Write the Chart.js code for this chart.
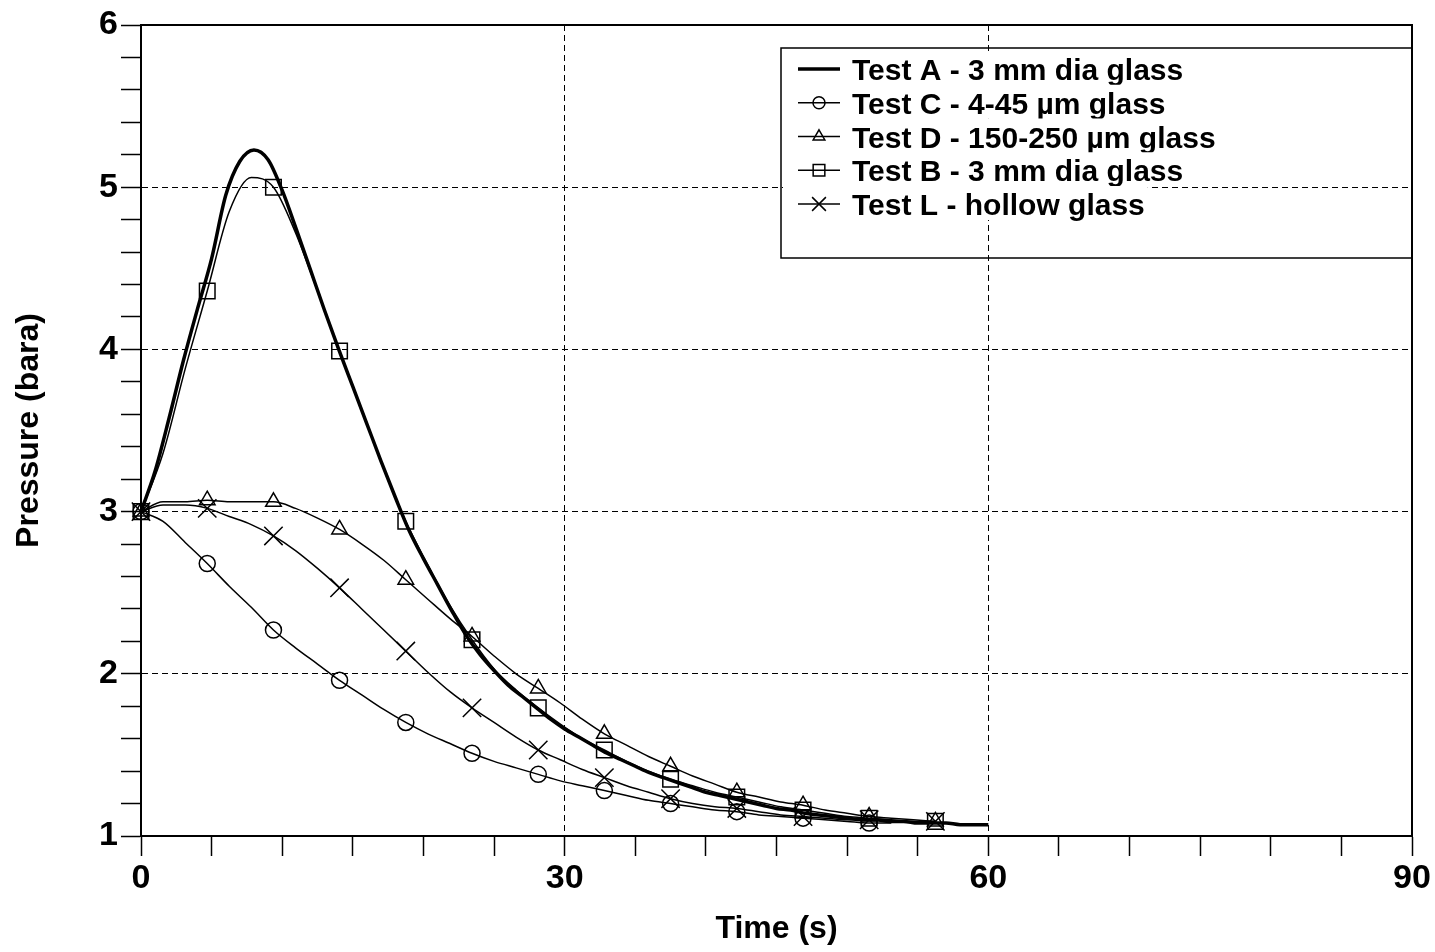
<!DOCTYPE html>
<html>
<head>
<meta charset="utf-8">
<script src="https://cdn.jsdelivr.net/npm/chart.js@4"></script>
<style>
  body { margin: 0; background: #fff; }
  canvas { display: block; }
</style>
</head>
<body>
<canvas id="grafico-pressao" width="1435" height="952"></canvas>
<script>
// tempos (s) das medicoes das series com marcador
const tempo = [0, 1.56, 3.13, 4.69, 6.25, 7.81, 9.38, 10.94, 12.5, 14.06, 15.63, 17.19, 18.75, 20.31,
  21.88, 23.44, 25, 26.56, 28.13, 29.69, 31.25, 32.81, 34.38, 35.94, 37.5, 39.06, 40.63, 42.19,
  43.75, 45.31, 46.88, 48.44, 50, 51.56, 53.13, 54.69, 56.25];

// tempos (s) do teste A (linha grossa, sem marcador)
const tempoA = [0, 1, 2, 3, 4, 5, 6, 7, 8, 9, 10, 11, 12, 13, 14, 15, 16, 17, 18, 19, 20, 21, 22, 23,
  24, 25, 26, 27, 28, 29, 30, 31, 32, 33, 34, 35, 36, 37, 38, 39, 40, 41, 42, 43, 44, 45, 46, 47, 48,
  49, 50, 51, 52, 53, 54, 55, 56, 57, 58, 59, 60];

// pressao (bara)
const testeA = [3.00, 3.25, 3.58, 3.93, 4.25, 4.56, 4.95, 5.16, 5.23, 5.17, 4.98, 4.74, 4.49, 4.24,
  4.00, 3.77, 3.54, 3.31, 3.09, 2.88, 2.71, 2.55, 2.39, 2.24, 2.12, 2.02, 1.93, 1.86, 1.79, 1.72,
  1.66, 1.61, 1.56, 1.51, 1.47, 1.43, 1.39, 1.36, 1.33, 1.30, 1.27, 1.25, 1.23, 1.21, 1.19, 1.17,
  1.16, 1.14, 1.13, 1.12, 1.11, 1.10, 1.10, 1.09, 1.09, 1.08, 1.08, 1.08, 1.07, 1.07, 1.07];
const testeC = [3.00, 2.94, 2.81, 2.68, 2.54, 2.41, 2.27, 2.16, 2.06, 1.96, 1.87, 1.78, 1.70, 1.63,
  1.57, 1.51, 1.46, 1.42, 1.38, 1.34, 1.31, 1.28, 1.25, 1.22, 1.20, 1.18, 1.16, 1.15, 1.13, 1.12,
  1.11, 1.10, 1.09, 1.08, 1.08];
const testeD = [3.00, 3.06, 3.06, 3.07, 3.06, 3.06, 3.06, 3.02, 2.96, 2.89, 2.80, 2.70, 2.58, 2.46,
  2.34, 2.23, 2.11, 2.00, 1.91, 1.82, 1.72, 1.63, 1.56, 1.49, 1.43, 1.37, 1.32, 1.27, 1.24, 1.21,
  1.19, 1.16, 1.14, 1.12, 1.11, 1.10, 1.09];
const testeB = [3.00, 3.36, 3.88, 4.36, 4.85, 5.06, 5.00, 4.72, 4.36, 3.99, 3.63, 3.27, 2.94, 2.67,
  2.42, 2.21, 2.03, 1.90, 1.79, 1.69, 1.60, 1.53, 1.46, 1.40, 1.35, 1.31, 1.27, 1.24, 1.21, 1.18,
  1.16, 1.14, 1.12, 1.11, 1.10, 1.09, 1.09];
const testeL = [3.00, 3.04, 3.04, 3.02, 2.97, 2.92, 2.85, 2.76, 2.65, 2.53, 2.40, 2.27, 2.14, 2.01,
  1.89, 1.79, 1.70, 1.61, 1.53, 1.47, 1.41, 1.36, 1.31, 1.27, 1.23, 1.20, 1.18, 1.17, 1.15, 1.13,
  1.12, 1.11, 1.10, 1.10, 1.09, 1.09, 1.09];

const nomes = ['Test A - 3 mm dia glass', 'Test C - 4-45 µm glass', 'Test D - 150-250 µm glass',
  'Test B - 3 mm dia glass', 'Test L - hollow glass'];

const xTicks = [0, 30, 60, 90];
const yTicks = [1, 2, 3, 4, 5, 6];

const fonte = '"Liberation Sans", Arial, sans-serif';
const marcadorCada = 3; // um marcador a cada 3 medicoes

// junta tempo e pressao em pontos {x, y}
function pontos(t, p) {
  return p.map((v, i) => ({ x: t[i], y: v }));
}

function serie(label, t, p, estilo, raio, largura) {
  return {
    label: label,
    data: pontos(t, p),
    borderColor: '#000',
    borderWidth: largura,
    pointStyle: estilo,
    pointRadius: ctx => (estilo && ctx.dataIndex % marcadorCada === 0) ? raio : 0,
    pointBorderColor: '#000',
    pointBorderWidth: 1.5,
    pointBackgroundColor: 'rgba(0,0,0,0)',
    cubicInterpolationMode: 'monotone',
    clip: false,
    // tamanho do simbolo na legenda
    legendaRaio: raio * 0.75
  };
}

// moldura em volta da area do grafico
const moldura = {
  id: 'moldura',
  beforeDatasetsDraw(chart) {
    const { ctx, chartArea: a } = chart;
    ctx.save();
    ctx.strokeStyle = '#000';
    ctx.lineWidth = 2;
    ctx.strokeRect(a.left, a.top, a.right - a.left, a.bottom - a.top);
    ctx.restore();
  }
};

// legenda desenhada dentro da area do grafico
const legenda = {
  id: 'legenda',
  afterDraw(chart) {
    const { ctx, chartArea: a } = chart;
    const esq = a.left + 640, topo = a.top + 23, dir = a.right, base = a.top + 233;
    ctx.save();
    ctx.font = 'bold 30px ' + fonte;
    ctx.textBaseline = 'alphabetic';
    chart.data.datasets.forEach((ds, i) => {
      const linha = topo + 32 + i * 33.75;
      const larg = ctx.measureText(ds.label).width;
      ctx.fillStyle = '#fff';
      ctx.fillRect(esq + 2, linha - 29, 70 + larg + 2, 34);
      // simbolo
      const ys = linha - 11;
      ctx.strokeStyle = '#000';
      ctx.lineWidth = ds.borderWidth;
      ctx.beginPath();
      ctx.moveTo(esq + 17, ys);
      ctx.lineTo(esq + 59, ys);
      ctx.stroke();
      if (ds.pointStyle) {
        ctx.fillStyle = 'rgba(0,0,0,0)';
        ctx.lineWidth = 1.5;
        Chart.helpers.drawPoint(ctx, { pointStyle: ds.pointStyle, radius: ds.legendaRaio, borderWidth: 1.5, rotation: 0 }, esq + 38, ys);
      }
      ctx.fillStyle = '#000';
      ctx.fillText(ds.label, esq + 71, linha);
    });
    ctx.strokeStyle = '#000';
    ctx.lineWidth = 1.5;
    ctx.strokeRect(esq, topo, dir - esq, base - topo);
    ctx.restore();
  }
};

function inteiro(v, lista) {
  return lista.some(t => Math.abs(v - t) < 1e-6);
}

const configGrafico = {
  type: 'line',
  data: {
    datasets: [
      serie(nomes[0], tempoA, testeA, false, 0, 3.5),
      serie(nomes[1], tempo, testeC, 'circle', 8, 1.5),
      serie(nomes[2], tempo, testeD, 'triangle', 9, 1.5),
      serie(nomes[3], tempo, testeB, 'rect', 11, 1.5),
      serie(nomes[4], tempo, testeL, 'crossRot', 13, 1.5)
    ]
  },
  options: {
    responsive: false,
    animation: false,
    events: [],
    layout: { padding: { top: 25, right: 23, left: 0, bottom: 0 } },
    plugins: { legend: { display: false }, tooltip: { enabled: false } },
    scales: {
      x: {
        type: 'linear', min: 0, max: 90,
        afterFit: s => { s.height = 116; },
        ticks: {
          stepSize: 5, autoSkip: false, maxRotation: 0, padding: 2, color: '#000',
          font: { family: fonte, size: 34, weight: 'bold' },
          callback: v => inteiro(v, xTicks) ? v : ''
        },
        grid: {
          color: c => (c.tick && c.tick.value > 0 && c.tick.value < 90 && inteiro(c.tick.value, xTicks)) ? '#000' : 'rgba(0,0,0,0)',
          lineWidth: 1, tickColor: '#000', tickWidth: 1.5, tickLength: 20
        },
        border: { display: true, color: '#000', width: 2, dash: [6, 4] },
        title: {
          display: true, text: 'Time (s)', color: '#000',
          font: { family: fonte, size: 32, weight: 'bold' }, padding: { top: 0, bottom: 4 }
        }
      },
      y: {
        min: 1, max: 6,
        afterFit: s => { s.width = 141; },
        ticks: {
          stepSize: 0.2, autoSkip: false, padding: 3, color: '#000',
          font: { family: fonte, size: 34, weight: 'bold' },
          callback: v => inteiro(v, yTicks) ? Math.round(v) : ''
        },
        grid: {
          color: c => (c.tick && c.tick.value > 1.01 && c.tick.value < 5.99 && inteiro(c.tick.value, yTicks)) ? '#000' : 'rgba(0,0,0,0)',
          lineWidth: 1, tickColor: '#000', tickWidth: 1.5, tickLength: 20
        },
        border: { display: true, color: '#000', width: 2, dash: [6, 4] },
        title: {
          display: true, text: 'Pressure (bara)', color: '#000',
          font: { family: fonte, size: 32, weight: 'bold' }, padding: { top: 10, bottom: 0 }
        }
      }
    }
  },
  plugins: [moldura, legenda]
};

window.onload = function () {
  let ctx = document.getElementById('grafico-pressao').getContext('2d');
  window.graficoPressao = new Chart(ctx, configGrafico);
};
</script>
</body>
</html>
